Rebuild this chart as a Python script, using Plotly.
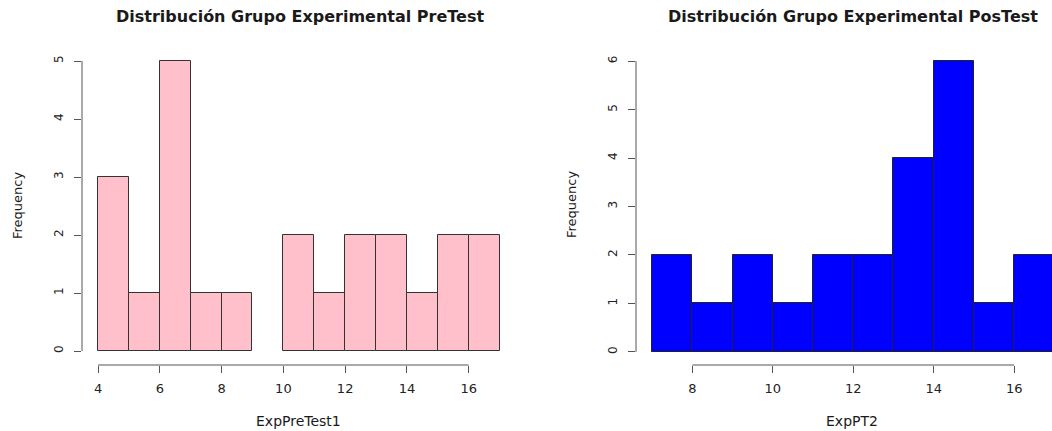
import plotly.graph_objects as go

# ---- data ----
pre_bin_left = [4, 5, 6, 7, 8, 9, 10, 11, 12, 13, 14, 15, 16]
pre_counts = [3, 1, 5, 1, 1, 0, 2, 1, 2, 2, 1, 2, 2]
pos_bin_left = [7, 8, 9, 10, 11, 12, 13, 14, 15, 16]
pos_counts = [2, 1, 2, 1, 2, 2, 4, 6, 1, 2]
pre_xticks = [4, 6, 8, 10, 12, 14, 16]
pre_yticks = [0, 1, 2, 3, 4, 5]
pos_xticks = [8, 10, 12, 14, 16]
pos_yticks = [0, 1, 2, 3, 4, 5, 6]

W, H = 1052, 431
FONT = "DejaVu Sans, Liberation Sans, Arial, sans-serif"
AX = "#555555"
TXT = "#222222"

fig = go.Figure()
fig.add_trace(go.Bar(
    x=[b + 0.5 for b in pre_bin_left], y=pre_counts, width=1,
    marker=dict(color="#FFC0CB",
                line=dict(color="#333333", width=[0 if c == 0 else 1 for c in pre_counts])),
    xaxis="x", yaxis="y", showlegend=False, hoverinfo="skip"))
fig.add_trace(go.Bar(
    x=[b + 0.5 for b in pos_bin_left], y=pos_counts, width=1,
    marker=dict(color="#0000FF",
                line=dict(color="#222222", width=[0 if c == 0 else 1 for c in pos_counts])),
    xaxis="x2", yaxis="y2", showlegend=False, hoverinfo="skip"))

ydom = [(H - 365) / H, (H - 50) / H]
xax = dict(showgrid=False, zeroline=False, showline=False, ticks="outside",
           ticklen=7, tickcolor=AX, tickwidth=1, ticklabelstandoff=4,
           tickfont=dict(family=FONT, size=13, color=TXT))
yax = dict(showgrid=False, zeroline=False, showline=False, ticks="outside",
           ticklen=7, tickcolor=AX, tickwidth=1, tickangle=-90, ticklabelstandoff=6,
           tickfont=dict(family=FONT, size=12, color=TXT))

fig.update_layout(
    width=W, height=H, margin=dict(l=0, r=0, t=0, b=0),
    paper_bgcolor="white", plot_bgcolor="white", bargap=0,
    font=dict(family=FONT, color=TXT),
    xaxis=dict(domain=[82 / W, 515 / W], range=[3.48, 17.5], tickvals=pre_xticks,
               anchor="y", **xax),
    yaxis=dict(domain=ydom, range=[-0.24, 5.19], tickvals=pre_yticks,
               anchor="x", **yax),
    xaxis2=dict(domain=[636 / W, 1.0], range=[6.6, 16.94], tickvals=pos_xticks,
                anchor="y2", **xax),
    yaxis2=dict(domain=ydom, range=[-0.27, 6.23], tickvals=pos_yticks,
                anchor="x2", **yax),
)

# R-style detached axis lines spanning first..last tick
fig.add_shape(type="line", xref="x", yref="y domain", x0=pre_xticks[0], x1=pre_xticks[-1],
              y0=0, y1=0, line=dict(color=AX, width=1))
fig.add_shape(type="line", xref="x domain", yref="y", x0=0, x1=0,
              y0=pre_yticks[0], y1=pre_yticks[-1], line=dict(color=AX, width=1))
fig.add_shape(type="line", xref="x2", yref="y2 domain", x0=pos_xticks[0], x1=pos_xticks[-1],
              y0=0, y1=0, line=dict(color=AX, width=1))
fig.add_shape(type="line", xref="x2 domain", yref="y2", x0=0, x1=0,
              y0=pos_yticks[0], y1=pos_yticks[-1], line=dict(color=AX, width=1))

def ann(text, x, y, size, bold=False, angle=0):
    fig.add_annotation(text=f"<b>{text}</b>" if bold else text,
                       xref="paper", yref="paper", x=x / W, y=1 - y / H,
                       xanchor="center", yanchor="middle", showarrow=False,
                       textangle=angle, font=dict(family=FONT, size=size, color="#1a1a1a"))

ann("Distribución Grupo Experimental PreTest", 300, 17, 16, bold=True)
ann("Distribución Grupo Experimental PosTest", 853, 17, 16, bold=True)
ann("ExpPreTest1", 298, 421, 14)
ann("ExpPT2", 852, 421, 14)
ann("Frequency", 17, 206, 13, angle=-90)
ann("Frequency", 571, 205, 13, angle=-90)

fig.write_html("out.html", config={"displayModeBar": False},
               post_script="document.body.style.margin='0';document.body.style.overflow='hidden';")
